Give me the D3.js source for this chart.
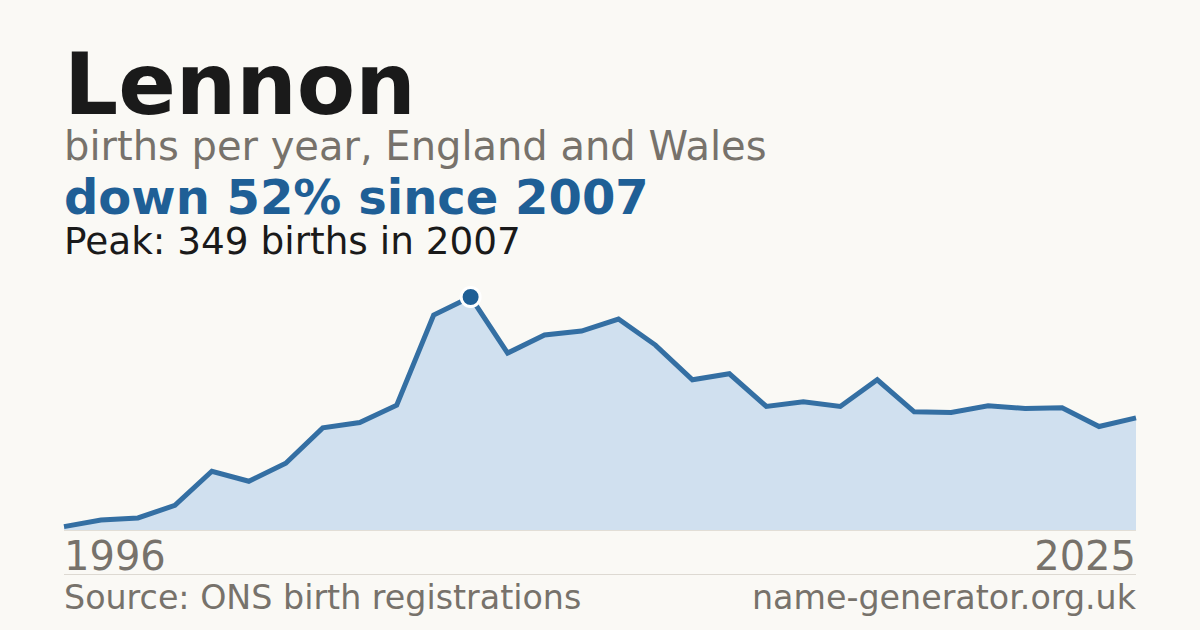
<!DOCTYPE html>
<html>
<head>
<meta charset="utf-8">
<script src="https://cdn.jsdelivr.net/npm/d3@7"></script>
<style>
  html, body { margin: 0; padding: 0; background: #faf9f5; }
  svg { display: block; }
  text { font-family: "DejaVu Sans", sans-serif; }
</style>
</head>
<body>
<svg id="chart" width="1200" height="630"></svg>
<script>
const years = d3.range(1996, 2026);
const births = [5, 15, 18, 37, 88, 73, 100, 153, 161, 187, 322, 349, 265, 292, 298, 316, 277, 225, 234, 185, 192, 185, 225, 177, 176, 186, 182, 183, 155, 168];
const nameTitle = "Lennon";
const subtitle = "births per year, England and Wales";
const headline = "down 52% since 2007";
const peakLabel = "Peak: 349 births in 2007";
const tickLabels = ["1996", "2025"];
const sourceText = "Source: ONS birth registrations";
const siteText = "name-generator.org.uk";

const data = years.map((y, i) => ({ year: y, value: births[i] }));
const svg = d3.select("#chart");
const W = 1200, H = 630;
const left = 64, right = 1136, baseY = 530, topY = 297;

svg.append("rect").attr("width", W).attr("height", H).attr("fill", "#faf9f5");

const x = d3.scaleLinear().domain(d3.extent(years)).range([left, right]);
const y = d3.scaleLinear().domain([0, d3.max(births)]).range([baseY, topY]);

// headings
svg.append("text").attr("x", left).attr("y", 114)
  .attr("font-size", 85).attr("font-weight", "bold").attr("fill", "#1a1a1a").text(nameTitle);
svg.append("text").attr("x", left).attr("y", 160)
  .attr("font-size", 40).attr("fill", "#77726b").text(subtitle);
svg.append("text").attr("x", left).attr("y", 214)
  .attr("font-size", 48).attr("font-weight", "bold").attr("fill", "#1f5f96").text(headline);
svg.append("text").attr("x", left).attr("y", 254)
  .attr("font-size", 37.4).attr("fill", "#1a1a1a").text(peakLabel);

// area
const area = d3.area().x(d => x(d.year)).y0(baseY).y1(d => y(d.value));
svg.append("path").datum(data).attr("d", area).attr("fill", "#d0e0ef");

svg.append("line").attr("x1", left).attr("x2", right).attr("y1", baseY + 0.5).attr("y2", baseY + 0.5)
  .attr("stroke", "#e2ded6").attr("stroke-width", 1);

const line = d3.line().x(d => x(d.year)).y(d => y(d.value));
svg.append("path").datum(data).attr("d", line)
  .attr("fill", "none").attr("stroke", "#346fa3").attr("stroke-width", 5)
  .attr("stroke-linejoin", "miter").attr("stroke-linecap", "butt");

// peak marker
const peak = data.reduce((a, b) => (b.value > a.value ? b : a));
svg.append("circle").attr("cx", x(peak.year)).attr("cy", y(peak.value)).attr("r", 9.5)
  .attr("fill", "#1f5f96").attr("stroke", "#ffffff").attr("stroke-width", 3);

// x labels
const xAxis = svg.append("g");
xAxis.append("text").attr("x", x(+tickLabels[0])).attr("y", 570)
  .attr("font-size", 40).attr("fill", "#77726b").attr("text-anchor", "start").text(tickLabels[0]);
xAxis.append("text").attr("x", x(+tickLabels[1])).attr("y", 570)
  .attr("font-size", 40).attr("fill", "#77726b").attr("text-anchor", "end").text(tickLabels[1]);

// footer
svg.append("line").attr("x1", left).attr("x2", right).attr("y1", 574.5).attr("y2", 574.5)
  .attr("stroke", "#ddd9d2").attr("stroke-width", 1);
svg.append("text").attr("x", left).attr("y", 609)
  .attr("font-size", 33.3).attr("fill", "#77726b").text(sourceText);
svg.append("text").attr("x", right).attr("y", 609).attr("text-anchor", "end")
  .attr("font-size", 33.3).attr("fill", "#77726b").text(siteText);
</script>
</body>
</html>
